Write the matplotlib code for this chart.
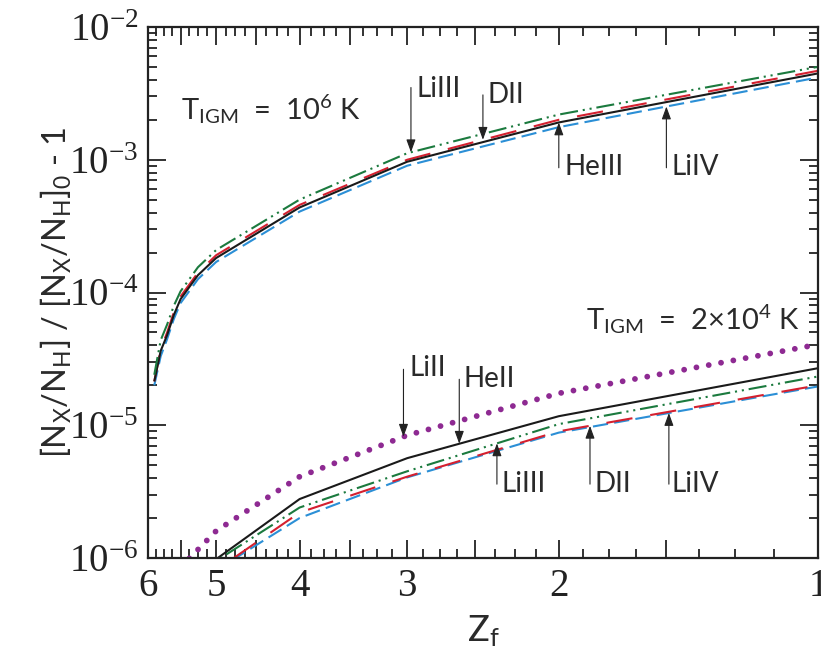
import numpy as np
import matplotlib
matplotlib.use("Agg")
import matplotlib.pyplot as plt
from matplotlib.ticker import FixedLocator, FuncFormatter, LogLocator, NullFormatter

plt.rcParams['mathtext.default'] = 'regular'
plt.rcParams['lines.scale_dashes'] = False

# ---------------- data ----------------
z_hot = [5.9, 5.8, 5.7, 5.6, 5.5, 5.25, 5.0, 4.0, 3.0, 2.0, 1.0]
hot_HeIII = [2.14e-5, 3.63e-5, 4.79e-5, 6.76e-5, 8.91e-5, 1.35e-4, 1.82e-4, 4.37e-4, 9.66e-4, 1.91e-3, 4.47e-3]
hot_LiIII = [2.40e-5, 4.37e-5, 5.75e-5, 7.94e-5, 1.02e-4, 1.55e-4, 2.09e-4, 5.01e-4, 1.12e-3, 2.19e-3, 5.01e-3]
hot_DII   = [2.14e-5, 3.72e-5, 5.01e-5, 7.08e-5, 9.33e-5, 1.41e-4, 1.91e-4, 4.57e-4, 1.00e-3, 2.00e-3, 4.68e-3]
hot_LiIV  = [2.00e-5, 3.31e-5, 4.47e-5, 6.31e-5, 8.32e-5, 1.26e-4, 1.70e-4, 4.07e-4, 9.02e-4, 1.76e-3, 4.17e-3]

z_cold = [5.5, 5.0, 4.0, 3.0, 2.0, 1.0]
cold_LiII  = [8.5e-7, 1.60e-6, 4.10e-6, 8.40e-6, 1.74e-5, 4.06e-5]
cold_HeII  = [5.0e-7, 9.8e-7, 2.78e-6, 5.65e-6, 1.17e-5, 2.69e-5]
cold_LiIII = [4.0e-7, 9.5e-7, 2.40e-6, 4.50e-6, 1.02e-5, 2.33e-5]
cold_DII   = [3.0e-7, 8.1e-7, 2.20e-6, 4.10e-6, 9.00e-6, 2.00e-5]
cold_LiIV  = [3.0e-7, 8.1e-7, 2.00e-6, 4.05e-6, 8.80e-6, 1.96e-5]

x_major_labeled = [6, 5, 4, 3, 2, 1]
x_major_half = [5.5, 4.5, 3.5, 2.5, 1.5]

# ---------------- styles ----------------
C_BLACK = '#1a1a1a'
C_RED = '#d4202f'
C_GREEN = '#1b7a3e'
C_BLUE = '#2b8fd6'
C_PURPLE = '#8e2a92'
C_TEXT = '#2a2a2a'
LW = 1.5
DASH_RED = (0, (19, 13))
DASH_BLUE = (0, (11, 4.5))
DASH_GREEN = (0, (13, 3.5, 1.5, 3.5, 1.5, 3.5))
SANS = 'Lato'

fig = plt.figure(figsize=(8.21, 6.5), dpi=100)
ax = fig.add_axes([148/821, 92/650, 670/821, 531/650])

def draw(z, series_list):
    for vals, col, ls in series_list:
        ax.plot(z, vals, color=col, lw=LW, linestyle=ls, solid_capstyle='butt', dash_capstyle='butt')

draw(z_hot, [
    (hot_LiIV, C_BLUE, DASH_BLUE),
    (hot_DII, C_RED, DASH_RED),
    (hot_HeIII, C_BLACK, '-'),
    (hot_LiIII, C_GREEN, DASH_GREEN),
])
draw(z_cold, [
    (cold_LiIV, C_BLUE, DASH_BLUE),
    (cold_DII, C_RED, DASH_RED),
    (cold_HeII, C_BLACK, '-'),
    (cold_LiIII, C_GREEN, DASH_GREEN),
])
ax.plot(z_cold, cold_LiII, color=C_PURPLE, lw=4.2, linestyle=(0, (0.01, 9.0)),
        dash_capstyle='round')

ax.set_xscale('log')
ax.set_yscale('log')
ax.set_xlim(6, 1)
ax.set_ylim(1e-6, 1e-2)

# x ticks
ax.xaxis.set_major_locator(FixedLocator(x_major_labeled + x_major_half))
ax.xaxis.set_major_formatter(FuncFormatter(lambda v, p: f"{int(round(v))}" if abs(v - round(v)) < 1e-6 else ""))
minors = [m for m in np.arange(1.0, 6.0001, 0.125) if abs(m*2 - round(m*2)) > 1e-6]
ax.xaxis.set_minor_locator(FixedLocator(minors))
ax.xaxis.set_minor_formatter(NullFormatter())

ax.yaxis.set_major_locator(LogLocator(base=10, numticks=10))
ax.yaxis.set_minor_locator(LogLocator(base=10, subs=np.arange(2, 10), numticks=20))
ax.yaxis.set_minor_formatter(NullFormatter())

ax.tick_params(which='both', direction='in', top=True, right=True, width=1.3, color='#222222')
ax.tick_params(which='major', length=13, pad=7)
ax.tick_params(which='minor', length=6.5)
ax.tick_params(axis='both', labelsize=28, labelcolor='#222222')
for spine in ax.spines.values():
    spine.set_linewidth(1.6)
    spine.set_color('#222222')

fig.canvas.draw()
for lab in ax.get_xticklabels() + ax.get_yticklabels():
    lab.set_fontfamily('Liberation Serif')

ax.set_xlabel('$Z_f$', fontsize=26, fontfamily=SANS, color=C_TEXT, labelpad=6)
ax.set_ylabel('$[N_X/N_H]$ / $[N_X/N_H]_0$ - 1', fontsize=23.5, fontfamily=SANS,
              color=C_TEXT, labelpad=-4)

def at(zq, z, vals):
    lz = np.log10(np.array(z, dtype=float))[::-1]
    lv = np.log10(np.array(vals, dtype=float))[::-1]
    return 10 ** np.interp(np.log10(zq), lz, lv)

TXT = dict(fontsize=20, fontfamily=SANS, color=C_TEXT)
AP = dict(arrowstyle='-|>,head_length=0.55,head_width=0.2', lw=0.8, color='#222222',
          shrinkA=0, shrinkB=0, mutation_scale=14)

def arrow(zq, z, vals, tail_val, label, text_z, text_val):
    tip = at(zq, z, vals)
    ax.annotate('', xy=(zq, tip), xytext=(zq, tail_val), arrowprops=AP)
    ax.text(text_z, text_val, label, ha='left', va='baseline', **TXT)

# hot group
arrow(2.97, z_hot, hot_LiIII, 3.5e-3, 'LiIII', 2.93, 2.98e-3)
arrow(2.45, z_hot, hot_DII, 3.08e-3, 'DII', 2.42, 2.68e-3)
arrow(2.0, z_hot, hot_HeIII, 8.7e-4, 'HeIII', 1.97, 7.7e-4)
arrow(1.5, z_hot, hot_LiIV, 8.7e-4, 'LiIV', 1.48, 7.7e-4)
# cold group
arrow(3.03, z_cold, cold_LiII, 2.64e-5, 'LiII', 2.98, 2.33e-5)
arrow(2.61, z_cold, cold_HeII, 2.22e-5, 'HeII', 2.58, 1.93e-5)
arrow(2.36, z_cold, cold_LiIII, 3.6e-6, 'LiIII', 2.33, 3.13e-6)
arrow(1.84, z_cold, cold_DII, 3.6e-6, 'DII', 1.82, 3.13e-6)
arrow(1.49, z_cold, cold_LiIV, 3.6e-6, 'LiIV', 1.48, 3.13e-6)

TTXT = dict(TXT, fontsize=21)
ax.text(5.5, 2.0e-3, '$T_{IGM}$  =  10$^{6}$ K', ha='left', va='baseline', **TTXT)
ax.text(1.05, 5.27e-5, '$T_{IGM}$  =  2×10$^{4}$ K', ha='right', va='baseline', **TTXT)

fig.savefig('out.png', dpi=100)
